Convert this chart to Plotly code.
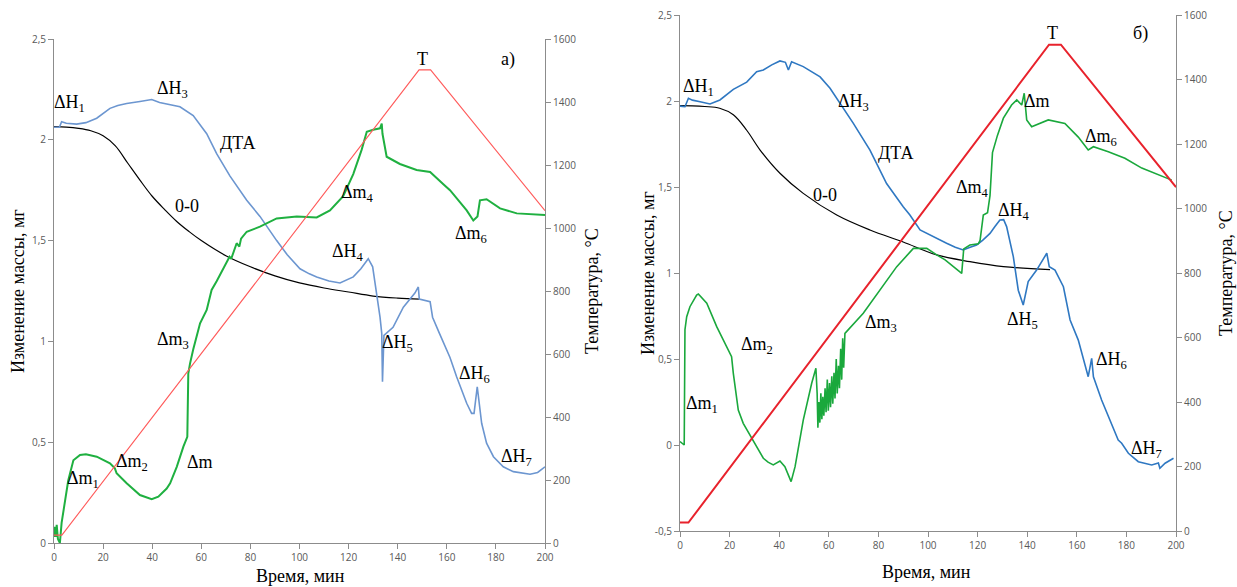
import plotly.graph_objects as go

W, H = 1237, 587

# ---------------- DATA: panel a) ----------------
a_temp_t = [0, 3.2, 148.7, 153.4, 200]
a_temp_v = [25, 25, 1502, 1502, 1055]

a_tg_t = [0, 5, 10, 15, 20, 25, 30, 35, 40, 45, 50, 55, 60, 70, 80, 90, 100, 110, 120, 130, 140, 149]
a_tg_v = [2.065, 2.063, 2.057, 2.045, 2.02, 1.97, 1.885, 1.80, 1.72, 1.655, 1.595, 1.545, 1.50, 1.425,
          1.37, 1.325, 1.29, 1.265, 1.245, 1.225, 1.215, 1.21]

a_dta_t = [0, 2.2, 3.1, 5, 9.2, 13, 17.4, 20, 22.8, 26, 29.6, 35, 39.8, 43, 45.9, 51.3, 56.7, 62.2, 66.3,
           71.7, 78.5, 83.9, 90.7, 95, 100.2, 104, 107, 112, 116.5, 121.9, 125, 128, 129.8, 131.4, 132.8,
           133.5, 133.8, 134.4, 138.1, 142.3, 147, 148.4, 148.8, 153.2, 154.2, 157, 161.3, 164, 168.1,
           170.1, 171.1, 172.4, 174.2, 176.2, 179, 183, 187.1, 193.9, 197, 200]
a_dta_v = [2.062, 2.062, 2.09, 2.082, 2.078, 2.085, 2.107, 2.13, 2.156, 2.17, 2.18, 2.19, 2.20, 2.185,
           2.178, 2.164, 2.12, 2.03, 1.93, 1.82, 1.70, 1.62, 1.50, 1.43, 1.36, 1.335, 1.32, 1.30, 1.29,
           1.32, 1.36, 1.41, 1.37, 1.24, 1.12, 1.04, 0.80, 1.03, 1.07, 1.17, 1.24, 1.27, 1.21, 1.197,
           1.12, 1.04, 0.92, 0.825, 0.693, 0.643, 0.643, 0.775, 0.594, 0.495, 0.428, 0.378, 0.354,
           0.341, 0.35, 0.378]

a_dm_t = [0, 0.4, 0.8, 1.1, 1.6, 2.4, 3.1, 3.8, 5.8, 7.9, 10.6, 13, 17.4, 22.8, 24.8, 25.5, 29.6, 35,
          39.8, 42.5, 45.9, 47.3, 50, 52.7, 54.3, 54.7, 55.4, 56.7, 59.5, 62.2, 64.2, 66.3, 70.3, 71.5,
          72.2, 74.4, 75.5, 76.2, 78.5, 83.9, 90.7, 98.9, 107, 112.4, 117.8, 121.9, 125.3, 127.4, 130,
          132.8, 133.5, 133.8, 135.5, 140.9, 147.7, 153.2, 158.6, 161.3, 168.1, 170.8, 172.5, 173.5,
          176.2, 181.7, 188.5, 200]
a_dm_v = [0.03, 0.08, 0.03, 0.09, 0.02, 0.0, 0.10, 0.15, 0.31, 0.41, 0.437, 0.44, 0.428, 0.395, 0.37,
          0.346, 0.296, 0.238, 0.217, 0.23, 0.27, 0.296, 0.378, 0.478, 0.527, 0.84, 0.89, 0.96, 1.09,
          1.156, 1.255, 1.30, 1.387, 1.42, 1.41, 1.487, 1.47, 1.51, 1.544, 1.569, 1.61, 1.62, 1.615,
          1.65, 1.72, 1.83, 1.95, 2.04, 2.05, 2.057, 2.08, 2.03, 1.916, 1.88, 1.85, 1.84, 1.78, 1.75,
          1.65, 1.60, 1.62, 1.70, 1.705, 1.66, 1.635, 1.627]

# ---------------- DATA: panel б) ----------------
b_temp_t = [0, 3.4, 148.8, 153.6, 200]
b_temp_v = [26, 26, 1508, 1508, 1066]

b_tg_t = [0, 5, 10, 16, 21.5, 26.9, 32.3, 40.3, 49.7, 63.2, 76.6, 90, 103.5, 116.9, 130.4, 149.2]
b_tg_v = [1.973, 1.972, 1.968, 1.958, 1.92, 1.83, 1.715, 1.58, 1.463, 1.337, 1.25, 1.18, 1.105, 1.066,
          1.037, 1.02]

b_dta_t = [0, 2, 3.4, 5, 8.1, 12.1, 16.1, 21.5, 26.9, 30.9, 33.6, 37, 40.3, 42.5, 43.7, 45, 49.7, 56.5,
           60.5, 64.5, 69.9, 76.6, 83.3, 90, 92.7, 96.8, 100.8, 104, 107.5, 111, 114.2, 117, 119.6, 122,
           125, 127, 129, 130.5, 131.7, 134.4, 136.4, 138.4, 140.4, 143.8, 147.9, 148.9, 151.2, 154.6,
           157.3, 160.6, 163.3, 164.6, 166, 166.7, 170, 174.1, 176.7, 178.1, 180.8, 184.8, 190.2,
           192.9, 193.5, 195.6, 199]
b_dta_v = [1.97, 1.967, 2.016, 2.005, 1.996, 1.983, 2.006, 2.068, 2.11, 2.17, 2.18, 2.21, 2.233, 2.225,
           2.18, 2.228, 2.2, 2.14, 2.074, 1.987, 1.87, 1.715, 1.52, 1.385, 1.337, 1.25, 1.22, 1.20,
           1.173, 1.15, 1.134, 1.15, 1.163, 1.19, 1.23, 1.27, 1.308, 1.31, 1.27, 1.095, 0.90, 0.814,
           0.95, 1.017, 1.115, 1.037, 1.017, 0.92, 0.727, 0.61, 0.475, 0.397, 0.504, 0.397, 0.262,
           0.126, 0.029, 0.01, -0.048, -0.097, -0.116, -0.105, -0.135, -0.106, -0.077]

b_dm_t = [0, 1.3, 1.7, 2, 2.7, 4, 6.7, 7.4, 10.8, 14.8, 18.8, 20.8, 21.5, 22.2, 23.5, 25.5, 28.2, 30.9,
          33.6, 35.5, 37.6, 40.3, 42.3, 44.8, 46.4, 49.7, 53.1, 54.8,
          55.3, 55.6, 56.0, 56.4, 56.8, 57.2, 57.6, 58.0, 58.5, 58.9, 59.4, 59.8, 60.3, 60.7, 61.2,
          61.6, 62.1, 62.5, 63.0, 63.4, 63.9, 64.3, 64.8, 65.2, 65.6, 66.0, 66.5,
          73.9, 80.6, 87.4, 94.1, 99.5, 103.5, 106.9, 113.6, 114.4, 116.9, 120.3, 121, 122.3, 124,
          125, 126, 128, 130.4, 133.7, 135.8, 137.8, 138.8, 139.8, 141.8, 148.5, 155.2, 160.6, 164.6,
          166.7, 172.7, 179.4, 186.2, 192.9, 198.3]
b_dm_v = [0.02, 0.004, 0.0, 0.67, 0.746, 0.804, 0.872, 0.878, 0.824, 0.688, 0.572, 0.513, 0.417, 0.34,
          0.203, 0.126, 0.058, -0.01, -0.077, -0.10, -0.116, -0.093, -0.126, -0.213, -0.126, 0.145,
          0.359, 0.446,
          0.30, 0.10, 0.25, 0.13, 0.30, 0.15, 0.28, 0.17, 0.33, 0.19, 0.38, 0.20, 0.36, 0.22, 0.40,
          0.24, 0.42, 0.27, 0.50, 0.30, 0.46, 0.33, 0.56, 0.38, 0.62, 0.45, 0.649,
          0.766, 0.90, 1.037, 1.143, 1.143, 1.105, 1.076, 0.998, 1.14, 1.163, 1.17, 1.19, 1.337, 1.35,
          1.45, 1.70, 1.80, 1.90, 1.977, 2.006, 1.977, 2.045, 1.89, 1.85, 1.89, 1.87, 1.79, 1.715,
          1.734, 1.705, 1.667, 1.61, 1.57, 1.54]

# ---------------- labels ----------------
x_ticks = [0, 20, 40, 60, 80, 100, 120, 140, 160, 180, 200]
a_y_ticks = [0, 0.5, 1, 1.5, 2, 2.5]
a_y_text = ["0", "0,5", "1", "1,5", "2", "2,5"]
b_y_ticks = [-0.5, 0, 0.5, 1, 1.5, 2, 2.5]
b_y_text = ["-0,5", "0", "0,5", "1", "1,5", "2", "2,5"]
t_ticks = [0, 200, 400, 600, 800, 1000, 1200, 1400, 1600]

a_labels = [("ΔH<sub>1</sub>", 6.5, 2.178), ("ΔH<sub>3</sub>", 48.1, 2.247), ("ДТА", 74.9, 1.984),
            ("0-0", 54.2, 1.672), ("T", 150.3, 2.401), ("a)", 184.9, 2.396),
            ("Δm<sub>4</sub>", 123.8, 1.736), ("Δm<sub>6</sub>", 169.9, 1.528),
            ("ΔH<sub>4</sub>", 119.8, 1.443), ("ΔH<sub>5</sub>", 140.1, 0.992),
            ("ΔH<sub>6</sub>", 171.1, 0.838), ("ΔH<sub>7</sub>", 188.2, 0.422),
            ("Δm<sub>3</sub>", 48.5, 1.002), ("Δm<sub>2</sub>", 31.8, 0.397),
            ("Δm<sub>1</sub>", 11.8, 0.3125), ("Δm", 59.5, 0.402)]
b_labels = [("ΔH<sub>1</sub>", 7.3, 2.076), ("ΔH<sub>3</sub>", 69.8, 1.994), ("ДТА", 86.7, 1.698),
            ("0-0", 58.5, 1.453), ("T", 150.4, 2.395), ("б)", 185.5, 2.395),
            ("Δm", 144.0, 2.0), ("Δm<sub>6</sub>", 169.8, 1.785), ("Δm<sub>4</sub>", 118.1, 1.494),
            ("ΔH<sub>4</sub>", 134.7, 1.355), ("ΔH<sub>5</sub>", 138.3, 0.721),
            ("ΔH<sub>6</sub>", 173.8, 0.494), ("ΔH<sub>7</sub>", 188.3, -0.029),
            ("Δm<sub>3</sub>", 81.0, 0.709), ("Δm<sub>2</sub>", 31.0, 0.581),
            ("Δm<sub>1</sub>", 8.9, 0.238)]

x_title = "Время, мин"
y_title = "Изменение массы, мг"
t_title = "Температура, °С"

# ---------------- figure ----------------
def px(x):
    return x / W

def py(y):
    return 1 - y / H

SERIF = "Liberation Serif"
TICKF = dict(family="Open Sans", size=10, color="#595959")
AXC = "#8c8c8c"

fig = go.Figure()

# panel a
fig.add_trace(go.Scatter(x=a_temp_t, y=a_temp_v, mode="lines", line=dict(color="#ff5a5a", width=1.1),
                         xaxis="x", yaxis="y3", showlegend=False))
fig.add_trace(go.Scatter(x=a_tg_t, y=a_tg_v, mode="lines", line=dict(color="black", width=1.2, shape="spline"),
                         xaxis="x", yaxis="y", showlegend=False))
fig.add_trace(go.Scatter(x=a_dta_t, y=a_dta_v, mode="lines", line=dict(color="#6c96d0", width=1.6),
                         xaxis="x", yaxis="y", showlegend=False))
fig.add_trace(go.Scatter(x=a_dm_t, y=a_dm_v, mode="lines", line=dict(color="#1fb040", width=2),
                         xaxis="x", yaxis="y", showlegend=False))
# panel b
fig.add_trace(go.Scatter(x=b_temp_t, y=b_temp_v, mode="lines", line=dict(color="#e8222c", width=2),
                         xaxis="x2", yaxis="y4", showlegend=False))
fig.add_trace(go.Scatter(x=b_tg_t, y=b_tg_v, mode="lines", line=dict(color="black", width=1.2, shape="spline"),
                         xaxis="x2", yaxis="y2", showlegend=False))
fig.add_trace(go.Scatter(x=b_dta_t, y=b_dta_v, mode="lines", line=dict(color="#2f78c2", width=1.6),
                         xaxis="x2", yaxis="y2", showlegend=False))
fig.add_trace(go.Scatter(x=b_dm_t, y=b_dm_v, mode="lines", line=dict(color="#1aa83c", width=1.6),
                         xaxis="x2", yaxis="y2", showlegend=False))

axis_common = dict(showgrid=False, zeroline=False, showline=True, linecolor=AXC, linewidth=1,
                   ticks="outside", tickcolor=AXC, ticklen=5, tickfont=TICKF)

fig.update_layout(
    width=W, height=H,
    margin=dict(l=0, r=0, t=0, b=0, autoexpand=False),
    paper_bgcolor="white", plot_bgcolor="white",
    xaxis=dict(domain=[px(54), px(545)], range=[0, 200], tickvals=x_ticks, anchor="y", **axis_common),
    yaxis=dict(domain=[py(543), py(39)], range=[0, 2.5], tickvals=a_y_ticks, ticktext=a_y_text,
               anchor="x", **axis_common),
    yaxis3=dict(range=[0, 1600], tickvals=t_ticks, overlaying="y", side="right", anchor="x", **axis_common),
    xaxis2=dict(domain=[px(680), px(1176)], range=[0, 200], tickvals=x_ticks, anchor="y2", **axis_common),
    yaxis2=dict(domain=[py(531), py(15)], range=[-0.5, 2.5], tickvals=b_y_ticks, ticktext=b_y_text,
                anchor="x2", **axis_common),
    yaxis4=dict(range=[0, 1600], tickvals=t_ticks, overlaying="y2", side="right", anchor="x2", **axis_common),
)

ann = []
for text, t, v in a_labels:
    ann.append(dict(text=text, x=t, y=v, xref="x", yref="y", showarrow=False,
                    font=dict(family=SERIF, size=18, color="black")))
for text, t, v in b_labels:
    ann.append(dict(text=text, x=t, y=v, xref="x2", yref="y2", showarrow=False,
                    font=dict(family=SERIF, size=18, color="black")))

title_font = dict(family=SERIF, size=18, color="black")
for (xp, yp, text, ang) in [(18, 291, y_title, -90), (592, 291, t_title, -90),
                            (648, 273, y_title, -90), (1226, 273, t_title, -90),
                            (300, 576, x_title, 0), (926, 572, x_title, 0)]:
    ann.append(dict(text=text, x=px(xp), y=py(yp), xref="paper", yref="paper", showarrow=False,
                    textangle=ang, xanchor="center", yanchor="middle", font=title_font))

fig.update_layout(annotations=ann)
fig.write_html("out.html")
